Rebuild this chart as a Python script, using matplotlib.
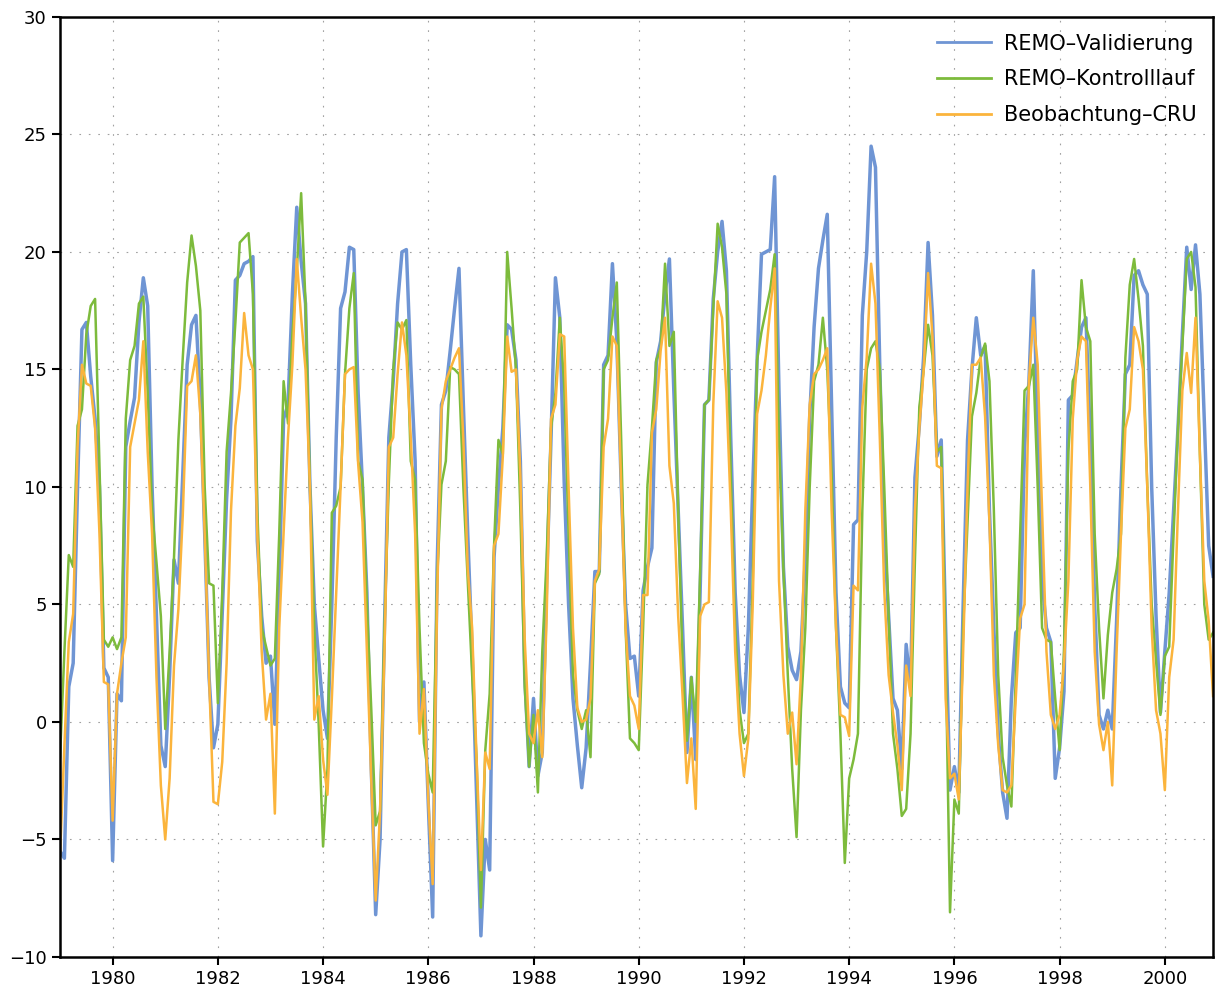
import numpy as np
import matplotlib
matplotlib.use("Agg")
import matplotlib.pyplot as plt

# Monatsmittel der 2m-Temperatur (degC), Jan 1979 - Dez 2000, eine Zeile pro Jahr
remo_validierung = [
    -5.5, -5.8, 1.5, 2.5, 10.0, 16.7, 17.0, 14.7, 12.9, 10.0, 2.3, 1.9,
    -5.9, 1.2, 0.9, 11.7, 12.8, 13.8, 17.0, 18.9, 17.7, 10.0, 4.5, -1.0,
    -1.9, 2.0, 6.9, 5.9, 10.5, 15.2, 16.9, 17.3, 13.7, 8.0, 1.9, -1.1,
    -0.1, 4.6, 9.5, 12.9, 18.8, 19.0, 19.5, 19.6, 19.8, 7.7, 4.5, 2.5,
    2.8, -0.1, 6.0, 12.9, 13.5, 18.2, 21.9, 19.6, 17.8, 10.1, 5.0, 2.7,
    0.5, -0.7, 5.0, 12.1, 17.6, 18.3, 20.2, 20.1, 14.0, 10.0, 5.5, -2.0,
    -8.2, -5.0, 4.0, 12.1, 14.5, 17.8, 20.0, 20.1, 15.2, 11.1, 0.0, 1.7,
    -3.5, -8.3, 6.5, 13.5, 14.1, 15.8, 17.6, 19.3, 13.5, 8.0, 3.0, -3.0,
    -9.1, -5.0, -6.3, 7.0, 10.0, 12.5, 16.9, 16.7, 15.4, 11.1, 1.9, -1.9,
    1.0, -2.3, -1.3, 6.0, 12.1, 18.9, 17.2, 10.2, 5.0, 1.0, -1.0, -2.8,
    -1.1, 2.5, 6.4, 6.4, 15.2, 15.6, 19.5, 16.2, 10.1, 5.0, 2.7, 2.8,
    1.1, 5.6, 6.6, 7.4, 15.3, 16.2, 18.2, 19.7, 14.1, 9.1, 4.0, -1.3,
    1.9, -1.6, 5.5, 13.5, 13.7, 18.0, 20.0, 21.3, 19.2, 12.0, 5.5, 2.0,
    0.4, 4.0, 10.0, 15.4, 19.9, 20.0, 20.1, 23.2, 14.0, 6.6, 3.2, 2.2,
    1.8, 3.0, 7.0, 13.0, 16.8, 19.3, 20.5, 21.6, 13.4, 5.5, 1.5, 0.8,
    0.6, 8.4, 8.6, 17.3, 20.0, 24.5, 23.6, 15.0, 8.0, 4.5, 1.0, 0.5,
    -2.0, 3.3, 1.5, 10.4, 12.6, 15.6, 20.4, 17.3, 11.3, 12.0, 4.0, -2.9,
    -1.9, -3.0, 5.0, 12.0, 15.0, 17.2, 15.6, 16.0, 9.0, 4.0, -0.5, -3.0,
    -4.1, 1.0, 3.8, 4.0, 11.7, 14.5, 19.2, 12.1, 6.0, 4.0, 3.4, -2.4,
    -1.1, 1.3, 13.7, 13.9, 15.4, 16.8, 17.2, 12.0, 5.0, 0.3, -0.3, 0.5,
    -0.3, 4.3, 10.0, 14.8, 15.2, 19.0, 19.2, 18.6, 18.2, 10.0, 4.5, 0.4,
    3.0, 5.5, 9.0, 12.5, 16.5, 20.2, 18.4, 20.3, 18.2, 12.8, 7.5, 6.2,
]

remo_kontrolllauf = [
    -1.5, 3.0, 7.1, 6.6, 12.6, 13.3, 16.5, 17.7, 18.0, 10.9, 3.5, 3.2,
    3.6, 3.1, 3.6, 12.9, 15.4, 16.0, 17.8, 18.1, 14.0, 9.0, 6.8, 4.5,
    -0.3, 3.0, 7.0, 12.0, 15.5, 18.7, 20.7, 19.4, 17.5, 10.0, 5.9, 5.8,
    0.8, 5.5, 11.5, 14.0, 17.0, 20.4, 20.6, 20.8, 18.2, 9.0, 4.0, 3.2,
    2.4, 2.7, 8.0, 14.5, 12.7, 16.5, 19.2, 22.5, 17.8, 10.1, 4.0, -0.1,
    -5.3, -2.0, 8.9, 9.2, 10.0, 14.8, 17.6, 19.1, 11.1, 10.3, 5.0, 0.5,
    -4.4, -3.8, 4.0, 10.2, 15.0, 17.0, 16.7, 17.1, 11.1, 10.3, 4.0, -0.9,
    -2.2, -3.0, 6.0, 10.1, 11.1, 15.1, 15.0, 14.8, 10.0, 6.0, 2.0, -1.5,
    -7.9, -1.2, 1.2, 7.5, 12.0, 11.4, 20.0, 17.6, 15.0, 9.0, 1.5, -1.9,
    0.3, -3.0, 3.0, 7.0, 12.5, 14.0, 17.2, 14.3, 8.0, 2.0, 0.5, -0.3,
    0.5, -1.5, 5.9, 6.3, 15.0, 15.4, 17.2, 18.7, 12.0, 4.0, -0.7, -0.9,
    -1.2, 4.0, 10.1, 12.5, 15.4, 15.9, 19.5, 16.0, 16.6, 9.0, 2.5, -0.8,
    1.9, 0.0, 6.3, 13.5, 13.7, 17.6, 21.2, 20.2, 18.2, 10.5, 4.0, 0.5,
    -0.9, -0.5, 6.0, 15.4, 16.6, 17.5, 18.4, 19.9, 12.0, 6.5, 2.0, -2.0,
    -4.9, 0.5, 4.0, 10.0, 14.5, 15.2, 17.2, 15.0, 10.5, 4.0, -0.5, -6.0,
    -2.4, -1.6, -0.5, 9.0, 15.0, 15.9, 16.2, 15.0, 10.0, 4.5, -0.5, -2.0,
    -4.0, -3.7, -0.5, 6.9, 13.4, 15.0, 16.9, 15.6, 11.5, 11.7, 3.0, -8.1,
    -3.3, -3.9, 4.0, 8.5, 13.0, 14.0, 15.5, 16.1, 14.5, 9.0, 2.0, -1.5,
    -2.7, -3.6, 1.9, 8.0, 14.1, 14.3, 15.2, 10.0, 4.0, 3.5, 3.4, 1.0,
    -1.2, 3.0, 11.5, 14.5, 15.0, 18.8, 16.8, 16.2, 8.0, 4.0, 1.0, 3.7,
    5.5, 6.5, 8.0, 15.5, 18.6, 19.7, 18.0, 16.0, 10.0, 5.0, 2.6, 0.3,
    2.8, 3.2, 8.0, 12.5, 16.0, 19.7, 20.0, 18.5, 11.4, 5.0, 3.5, 3.8,
]

beobachtung_cru = [
    -5.7, -1.0, 3.4, 4.6, 11.7, 15.2, 14.4, 14.3, 12.5, 8.0, 1.7, 1.6,
    -4.2, 1.2, 2.5, 3.6, 11.7, 12.7, 13.7, 16.2, 11.5, 8.0, 1.9, -2.7,
    -5.0, -2.4, 2.4, 4.8, 8.8, 14.3, 14.5, 15.6, 13.1, 8.0, 1.9, -3.4,
    -3.5, -1.7, 2.5, 9.0, 12.6, 14.2, 17.4, 15.6, 15.0, 8.0, 3.0, 0.1,
    1.2, -3.9, 4.0, 8.0, 12.1, 15.2, 19.7, 17.2, 15.0, 10.0, 0.1, 1.1,
    -1.6, -3.1, 1.0, 5.5, 10.0, 14.8, 15.0, 15.1, 11.0, 8.5, 3.0, -2.5,
    -7.6, -3.8, 2.9, 11.7, 12.1, 14.8, 17.0, 15.6, 12.1, 8.0, -0.5, 1.4,
    -3.3, -6.9, 5.0, 13.3, 14.5, 15.0, 15.5, 15.9, 12.0, 6.5, 4.0, -1.5,
    -6.3, -1.3, -2.0, 7.5, 8.0, 11.3, 16.4, 14.9, 15.0, 10.5, 3.5, -0.5,
    -0.9, 0.5, -1.5, 4.5, 12.9, 13.5, 16.5, 16.4, 10.0, 4.0, 0.6, 0.0,
    0.1, 1.0, 6.0, 6.5, 11.7, 12.9, 16.4, 16.0, 10.1, 4.0, 1.1, 0.7,
    -0.3, 5.4, 5.4, 12.3, 13.3, 15.8, 17.2, 10.9, 9.3, 4.5, 1.1, -2.6,
    -0.7, -3.7, 4.5, 5.0, 5.1, 13.5, 17.9, 17.2, 14.0, 9.0, 3.0, -0.5,
    -2.3, -0.7, 5.0, 13.1, 14.1, 15.6, 17.6, 19.3, 6.0, 2.0, -0.5, 0.4,
    -1.8, 2.0, 9.0, 13.5, 14.8, 15.0, 15.4, 15.9, 9.0, 4.0, 0.3, 0.2,
    -0.6, 5.8, 5.6, 13.4, 15.5, 19.5, 17.8, 12.0, 5.6, 2.0, 0.4, -1.0,
    -2.9, 2.4, 1.1, 9.0, 12.5, 15.0, 19.1, 16.4, 10.9, 10.8, 1.0, -2.4,
    -2.2, -3.3, 3.0, 10.0, 15.2, 15.2, 15.5, 13.0, 8.5, 2.0, -1.0, -2.9,
    -3.0, -2.7, 1.0, 4.4, 5.0, 14.5, 17.2, 15.2, 9.0, 3.0, 0.3, -0.3,
    0.3, 2.5, 6.0, 12.9, 15.4, 16.4, 16.2, 10.0, 3.0, -0.1, -1.2, 0.0,
    -2.7, 3.0, 8.0, 12.5, 13.3, 16.8, 16.2, 15.0, 10.0, 4.0, 0.5, -0.5,
    -2.9, 1.9, 3.5, 9.0, 14.1, 15.7, 14.0, 17.2, 11.4, 6.0, 4.3, 1.1,
]

start_year = 1979
year_ticks = list(range(1980, 2001, 2))
temp_ticks = list(range(-10, 31, 5))

# Zeitachse in Dezimaljahren (Monatsanfang)
zeit = start_year + np.arange(len(remo_validierung)) / 12.0

fig = plt.figure(figsize=(12.15, 9.89), dpi=100)
ax = fig.add_axes([0.0494, 0.0324, 0.949, 0.9505])

ax.plot(zeit, remo_validierung, color="#6f95d4", lw=2.5, label="REMO\u2013Validierung")
ax.plot(zeit, remo_kontrolllauf, color="#7dbb3c", lw=1.8, label="REMO\u2013Kontrolllauf")
ax.plot(zeit, beobachtung_cru, color="#fbb43c", lw=1.8, label="Beobachtung\u2013CRU")

ax.set_xlim(zeit[0], zeit[-1])
ax.set_ylim(-10, 30)
ax.set_xticks(year_ticks)
ax.set_yticks(temp_ticks)
ax.tick_params(labelsize=13, direction="out", length=6, width=1.5)
ax.grid(True, color="#a0a0a0", lw=0.8, linestyle=(0, (1.5, 7)))
for sp in ax.spines.values():
    sp.set_linewidth(1.8)

leg = ax.legend(loc="upper right", frameon=False, fontsize=15,
                handlelength=2.6, handletextpad=0.6, labelspacing=0.75,
                borderaxespad=0.4)
for h in leg.get_lines():
    h.set_linewidth(2.0)

fig.savefig("out.png", dpi=100)
